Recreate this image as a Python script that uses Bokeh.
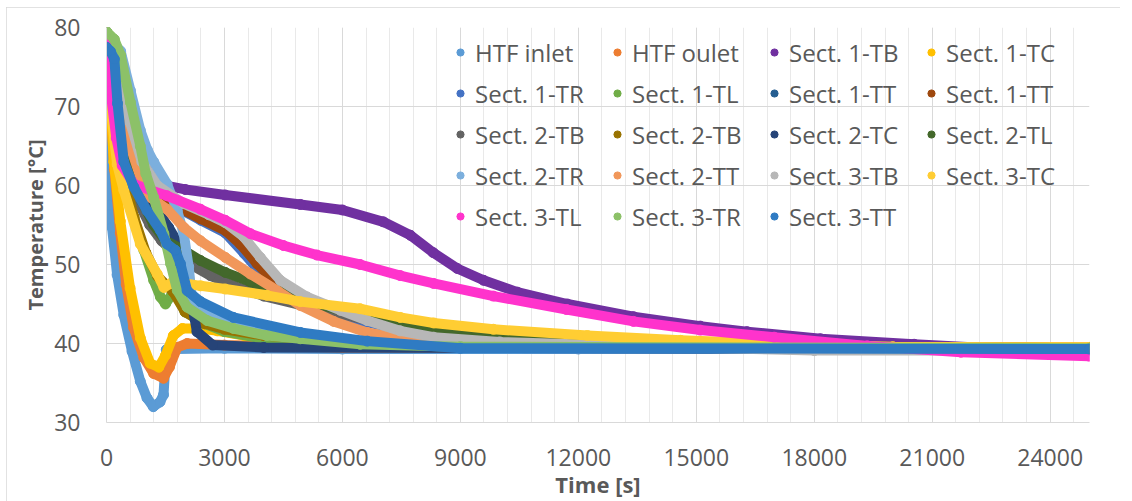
from bokeh.plotting import figure
from bokeh.models import Range1d, SingleIntervalTicker, Legend, LegendItem
from bokeh.embed import file_html
from bokeh.resources import INLINE

# ---------------- data (time [s], temperature [degC]) ----------------
names = ["HTF inlet", "HTF oulet", "Sect. 1-TB", "Sect. 1-TC", "Sect. 1-TR", "Sect. 1-TL",
         "Sect. 1-TT", "Sect. 1-TT", "Sect. 2-TB", "Sect. 2-TB", "Sect. 2-TC", "Sect. 2-TL",
         "Sect. 2-TR", "Sect. 2-TT", "Sect. 3-TB", "Sect. 3-TC", "Sect. 3-TL", "Sect. 3-TR",
         "Sect. 3-TT"]

htf_in_t = [0, 20, 40, 60, 140, 270, 440, 650, 860, 1030, 1190, 1360, 1450, 1520, 1780, 3000, 6000, 12000, 18000, 25000]
htf_in_T = [79.5, 73.0, 64.5, 57.5, 54.7, 48.7, 43.6, 39.0, 35.2, 33.1, 32.0, 32.6, 33.5, 39.2, 39.3, 39.4, 39.3, 39.3, 39.3, 39.3]

htf_out_t = [0, 100, 200, 350, 500, 690, 950, 1200, 1450, 1600, 1800, 2050, 3000, 6000, 12000, 25000]
htf_out_T = [79.5, 70.0, 62.0, 54.0, 47.5, 42.0, 38.2, 36.2, 35.6, 37.0, 39.5, 40.0, 39.8, 39.5, 39.5, 39.5]

s1tb_t = [0, 300, 600, 900, 1290, 2000, 3020, 4930, 6000, 7040, 7730, 8310, 8920, 9590, 10450, 11720, 13400, 15100, 16290, 18160, 20540, 22500, 25000]
s1tb_T = [79.5, 74.0, 68.0, 63.5, 60.2, 59.5, 58.8, 57.6, 56.9, 55.4, 53.7, 51.5, 49.5, 48.0, 46.5, 45.0, 43.4, 42.2, 41.5, 40.6, 39.9, 39.4, 39.3]

s1tc_t = [0, 100, 185, 350, 600, 860, 1110, 1330, 1500, 1700, 1930, 2400, 2820, 3500, 4500, 6000, 9000, 25000]
s1tc_T = [79.5, 71.0, 63.0, 55.5, 47.0, 40.7, 37.5, 37.0, 38.5, 41.0, 41.9, 41.9, 41.6, 41.0, 40.3, 39.9, 39.6, 39.5]

s1tr_t = [0, 300, 600, 900, 1300, 1800, 2400, 3020, 3500, 4000, 4500, 5200, 6000, 7500, 10000, 14000, 25000]
s1tr_T = [79.0, 73.0, 67.0, 63.0, 60.0, 57.2, 55.6, 54.0, 51.4, 48.5, 46.5, 44.6, 43.3, 41.8, 40.5, 39.8, 39.3]

s1tl_t = [0, 200, 440, 695, 950, 1200, 1370, 1500, 1670, 1800, 2000, 2500, 3000, 4000, 6000, 10000, 25000]
s1tl_T = [79.5, 68.0, 60.2, 56.0, 51.8, 48.0, 45.9, 45.0, 46.3, 46.0, 44.0, 42.5, 41.5, 40.6, 39.8, 39.5, 39.4]

s1tt_a_t = [0, 300, 600, 900, 1200, 1500, 1700, 1900, 2100, 2400, 3000, 4000, 6000, 9000, 25000]
s1tt_a_T = [77.5, 70.0, 63.0, 58.0, 55.0, 53.0, 52.0, 49.0, 45.5, 44.5, 42.8, 41.3, 40.2, 39.6, 39.3]

s1tt_b_t = [0, 300, 600, 900, 1300, 1800, 2390, 3020, 3400, 3830, 4340, 4930, 5780, 7000, 9000, 12000, 15000, 20000, 25000]
s1tt_b_T = [79.0, 73.0, 67.0, 63.0, 59.5, 57.3, 55.8, 54.3, 52.6, 50.1, 47.5, 45.9, 44.2, 42.6, 41.3, 40.4, 39.9, 39.5, 39.3]

s2tb_a_t = [0, 200, 500, 800, 1100, 1400, 1700, 1965, 2640, 3230, 4000, 5000, 6600, 8000, 10000, 13000, 18000, 25000]
s2tb_a_T = [76.0, 70.0, 63.0, 58.0, 55.0, 53.0, 51.5, 50.5, 48.6, 47.3, 46.0, 44.8, 43.0, 42.0, 41.0, 40.2, 39.6, 39.4]

s2tb_b_t = [0, 400, 700, 1000, 1300, 1500, 1700, 2000, 2500, 3000, 4000, 6000, 10000, 25000]
s2tb_b_T = [78.0, 62.0, 56.0, 51.5, 48.5, 47.5, 46.5, 44.0, 42.5, 41.8, 41.0, 40.2, 39.6, 39.4]

s2tc_t = [0, 300, 600, 900, 1200, 1580, 1880, 2050, 2300, 2700, 4000, 25000]
s2tc_T = [78.0, 70.0, 64.0, 60.0, 57.5, 54.7, 52.2, 48.4, 41.5, 39.8, 39.5, 39.3]

s2tl_t = [0, 300, 600, 900, 1200, 1500, 1965, 2390, 3020, 3660, 4340, 5350, 6500, 8000, 10000, 13000, 18000, 25000]
s2tl_T = [79.0, 70.0, 63.0, 58.0, 55.0, 53.0, 51.8, 50.5, 49.0, 47.8, 46.7, 45.0, 43.5, 42.0, 41.0, 40.2, 39.6, 39.4]

s2tr_t = [0, 360, 610, 860, 1040, 1200, 1540, 1800, 1965, 2090, 2180, 2390, 3000, 4000, 6000, 9000, 25000]
s2tr_T = [79.0, 77.0, 72.0, 67.0, 64.5, 63.0, 60.2, 56.8, 53.9, 49.7, 45.4, 44.3, 42.5, 41.3, 40.3, 39.7, 39.4]

s2tt_t = [0, 300, 600, 900, 1120, 1540, 1965, 2390, 3020, 3660, 4340, 4930, 5780, 6630, 7500, 9000, 12000, 25000]
s2tt_T = [79.0, 72.0, 65.0, 60.5, 58.5, 57.0, 54.7, 53.0, 50.9, 48.8, 46.7, 44.8, 42.8, 41.4, 40.6, 40.0, 39.6, 39.4]

s3tb_t = [0, 300, 600, 900, 1290, 1965, 2600, 3020, 3490, 3910, 4420, 5100, 5950, 6630, 7470, 8320, 10000, 14000, 18000, 25000]
s3tb_T = [79.5, 74.0, 68.0, 63.0, 60.0, 57.7, 56.3, 55.3, 53.5, 50.9, 48.0, 45.9, 44.2, 42.9, 41.6, 40.8, 40.2, 39.6, 39.1, 39.1]

s3tc_t = [0, 100, 270, 440, 860, 1290, 1460, 1630, 2000, 2390, 3020, 4080, 4930, 6450, 7470, 8320, 9840, 12230, 14600, 16980, 20000, 25000]
s3tc_T = [78.0, 70.0, 62.7, 59.4, 52.6, 48.8, 47.1, 47.6, 47.6, 47.3, 46.9, 46.1, 45.3, 44.4, 43.3, 42.6, 41.8, 41.0, 40.4, 40.0, 39.6, 39.5]

s3tl_t = [0, 100, 250, 400, 695, 1120, 1540, 2390, 3020, 3660, 4500, 5350, 6450, 7470, 8320, 9840, 11700, 13400, 15100, 16980, 19350, 21730, 25000]
s3tl_T = [79.0, 72.0, 66.0, 62.5, 60.2, 59.4, 58.7, 57.0, 55.6, 53.9, 52.4, 51.2, 50.0, 48.6, 47.6, 46.0, 44.3, 42.8, 41.7, 40.8, 39.7, 38.9, 38.4]

s3tr_t = [0, 200, 360, 610, 860, 1000, 1200, 1460, 1630, 1800, 2050, 2560, 3230, 4080, 4930, 6450, 9000, 25000]
s3tr_T = [79.5, 78.5, 76.5, 70.5, 65.0, 61.5, 58.5, 53.9, 50.1, 46.7, 44.6, 42.9, 41.9, 41.0, 40.6, 39.9, 39.6, 39.4]

s3tt_t = [0, 100, 200, 280, 440, 695, 1030, 1370, 1540, 1750, 1880, 2050, 2390, 3230, 4930, 6630, 9000, 25000]
s3tt_T = [77.5, 77.0, 76.0, 70.4, 63.0, 59.8, 56.8, 54.3, 52.6, 51.8, 50.1, 46.7, 45.3, 43.3, 41.4, 40.3, 39.4, 39.3]

times = [htf_in_t, htf_out_t, s1tb_t, s1tc_t, s1tr_t, s1tl_t, s1tt_a_t, s1tt_b_t, s2tb_a_t,
         s2tb_b_t, s2tc_t, s2tl_t, s2tr_t, s2tt_t, s3tb_t, s3tc_t, s3tl_t, s3tr_t, s3tt_t]
temps = [htf_in_T, htf_out_T, s1tb_T, s1tc_T, s1tr_T, s1tl_T, s1tt_a_T, s1tt_b_T, s2tb_a_T,
         s2tb_b_T, s2tc_T, s2tl_T, s2tr_T, s2tt_T, s3tb_T, s3tc_T, s3tl_T, s3tr_T, s3tt_T]

colors = ["#5B9BD5", "#ED7D31", "#7030A0", "#FFC000", "#4472C4", "#70AD47",
          "#255E91", "#9E480E", "#636363", "#997300", "#264478", "#43682B",
          "#7CAFDD", "#F1975A", "#B7B7B7", "#FFCD33", "#FF33CC", "#8CC168",
          "#2F7BC3"]

FONT = "Open Sans"
TXT = "#595959"

p = figure(width=1114, height=494, output_backend="svg", toolbar_location=None,
           x_range=Range1d(0, 25000), y_range=Range1d(30, 80),
           min_border_left=100, min_border_top=20, min_border_right=31, min_border_bottom=79)
p.styles = {"margin-left": "6px", "margin-top": "7px",
            "outline": "1px solid #d9d9d9", "outline-offset": "-1px"}
p.outline_line_color = None
p.background_fill_color = "white"
p.border_fill_color = "white"

p.xaxis.ticker = SingleIntervalTicker(interval=3000, num_minor_ticks=5)
p.yaxis.ticker = SingleIntervalTicker(interval=10, num_minor_ticks=0)
p.xgrid.grid_line_color = "#d9d9d9"
p.xgrid.minor_grid_line_color = "#e9e9e9"
p.ygrid.grid_line_color = "#d9d9d9"

for ax in (p.xaxis[0], p.yaxis[0]):
    ax.major_tick_line_color = None
    ax.minor_tick_line_color = None
    ax.axis_line_color = "#d9d9d9"
    ax.major_label_text_font = FONT
    ax.major_label_text_font_size = "23px"
    ax.major_label_text_color = TXT
    ax.axis_label_text_font = FONT
    ax.axis_label_text_font_style = "bold"
    ax.axis_label_text_color = TXT

p.xaxis.axis_label = "Time [s]"
p.yaxis.axis_label = "Temperature [°C]"
p.xaxis.axis_label_text_font_size = "22px"
p.yaxis.axis_label_text_font_size = "20px"
p.yaxis.major_label_standoff = 20
p.xaxis.major_label_standoff = 20
p.yaxis.axis_label_standoff = 2
p.xaxis.axis_label_standoff = 0

items = []
for name, tt, TT, c in zip(names, times, temps, colors):
    p.line(tt, TT, line_color=c, line_width=10, line_join="round", line_cap="round")
    sc = p.scatter(tt, TT, size=10, fill_color=c, line_color=c)
    items.append(LegendItem(label=name, renderers=[sc]))

legend = Legend(items=items, location=(345, 189), orientation="horizontal", ncols=4,
                glyph_width=18, glyph_height=18, label_standoff=6, label_width=126,
                label_height=34, spacing=7, padding=0, margin=0,
                border_line_alpha=0, background_fill_alpha=0,
                label_text_font=FONT, label_text_font_size="24px", label_text_color=TXT)
p.add_layout(legend)

open("out.html", "w").write(file_html(p, INLINE))
